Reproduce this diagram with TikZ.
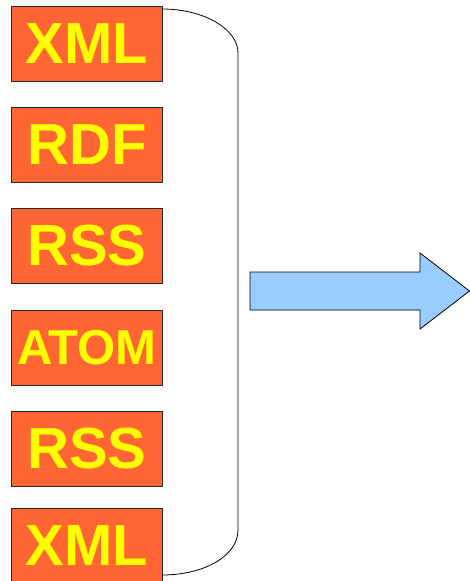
\documentclass[tikz,border=0pt]{standalone}
\usepackage{fontspec}
\setmainfont{Liberation Sans}
\usepackage{tikz}

\definecolor{boxorange}{RGB}{255,102,51}
\definecolor{txtyellow}{RGB}{255,255,0}
\definecolor{arrowblue}{RGB}{153,204,255}

\begin{document}
\begin{tikzpicture}[x=1pt,y=1pt,yscale=-1,xscale=1,
  fmtbox/.style={draw={rgb, 255:red, 40; green, 40; blue, 40},line width=0.8pt,fill=boxorange,
    minimum width=151pt,minimum height=75pt,inner sep=0pt,anchor=north west,
    text=txtyellow,font=\bfseries\fontsize{58}{58}\selectfont},
  smallfmt/.style={font=\bfseries\fontsize{49}{49}\selectfont}]
\useasboundingbox (0,0) rectangle (470,581);

%Shape: Rectangle [id:xml top]
\node [fmtbox] (xmlA) at (11,6) {XML};
%Shape: Rectangle [id:rdf]
\node [fmtbox] (rdf) at (11,107) {RDF};
%Shape: Rectangle [id:rss top]
\node [fmtbox] (rssA) at (11,208) {RSS};
%Shape: Rectangle [id:atom]
\node [fmtbox,smallfmt] (atom) at (11,310) {ATOM};
%Shape: Rectangle [id:rss bottom]
\node [fmtbox] (rssB) at (11,411) {RSS};
%Shape: Rectangle [id:xml bottom]
\node [fmtbox] (xmlB) at (11,508) {XML};

%Shape: Brace
\draw [line width=0.8pt] (162,9) .. controls (204,9) and (238,29) .. (238,53) -- (238,530) .. controls (238,556) and (204,575) .. (162,575) ;

%Shape: Right Arrow
\draw [line width=0.8pt,fill=arrowblue] (250,272) -- (420,272) -- (420,253) -- (469.5,291) -- (420,329) -- (420,310) -- (250,310) -- cycle ;

\end{tikzpicture}
\end{document}
